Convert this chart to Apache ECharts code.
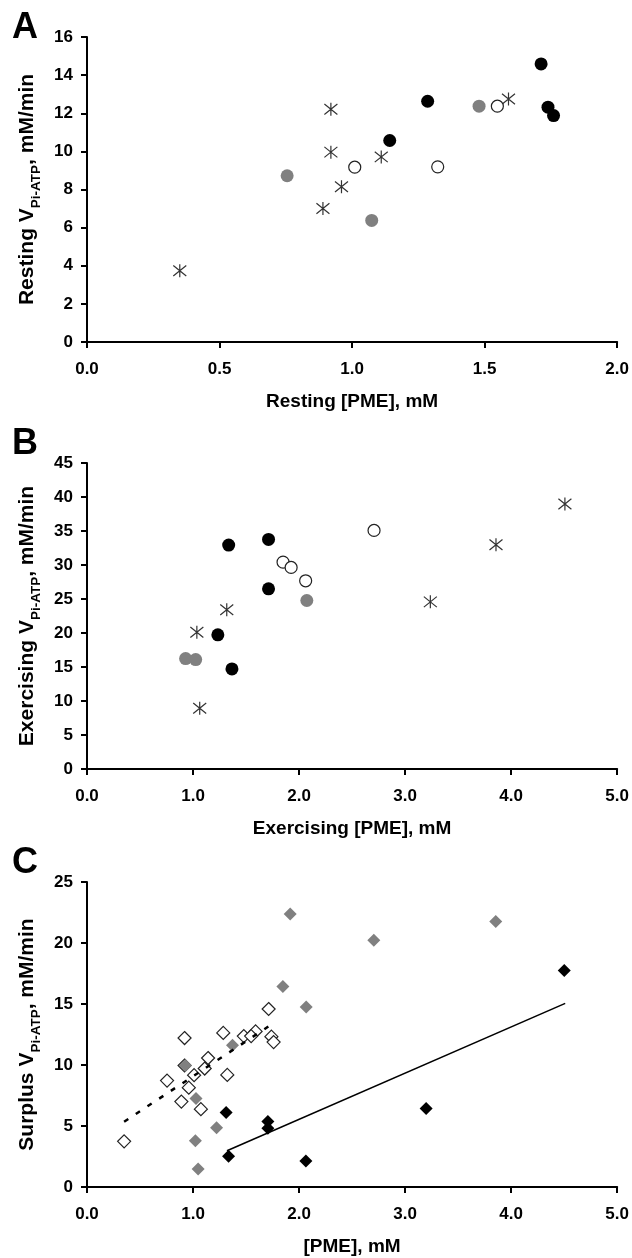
<!DOCTYPE html>
<html>
<head>
<meta charset="utf-8">
<script src="https://cdn.jsdelivr.net/npm/echarts@6/dist/echarts.min.js"></script>
<style>
html,body{margin:0;padding:0;background:#fff;overflow:hidden;}
#c{width:632px;height:1258px;}
</style>
</head>
<body>
<div id="c"></div>
<script>
// ---- Panel A: resting ----
const restStarX  = [0.35, 0.89, 0.92, 0.92, 0.96, 1.11, 1.59];
const restStarY  = [3.74, 7.0, 12.21, 9.96, 8.14, 9.71, 12.75];
const restGrayX  = [0.755, 1.074, 1.479];
const restGrayY  = [8.72, 6.38, 12.37];
const restOpenX  = [1.01, 1.323, 1.548];
const restOpenY  = [9.17, 9.19, 12.37];
const restBlackX = [1.142, 1.285, 1.713, 1.739, 1.76];
const restBlackY = [10.57, 12.63, 14.59, 12.32, 11.88];

// ---- Panel B: exercising ----
const exStarX  = [1.036, 1.063, 1.318, 3.238, 3.857, 4.507];
const exStarY  = [20.12, 8.93, 23.41, 24.58, 32.98, 38.96];
const exGrayX  = [0.93, 1.025, 2.073];
const exGrayY  = [16.24, 16.09, 24.78];
const exOpenX  = [1.849, 1.925, 2.062, 2.707];
const exOpenY  = [30.42, 29.64, 27.68, 35.08];
const exBlackX = [1.336, 1.712, 1.712, 1.234, 1.367];
const exBlackY = [32.93, 33.76, 26.5, 19.73, 14.72];

// ---- Panel C: surplus ----
const surOpenX  = [0.35, 0.89, 0.92, 0.92, 0.96, 1.11, 1.59, 0.755, 1.074, 1.479, 1.01, 1.323, 1.548, 1.142, 1.285, 1.713, 1.739, 1.76];
const surOpenY  = [3.74, 7.0, 12.21, 9.96, 8.14, 9.71, 12.75, 8.72, 6.38, 12.37, 9.17, 9.19, 12.37, 10.57, 12.63, 14.59, 12.32, 11.88];
const surGrayX  = [0.928, 1.028, 1.022, 1.048, 1.222, 1.372, 1.847, 1.916, 2.067, 2.705, 3.855];
const surGrayY  = [9.95, 7.25, 3.79, 1.47, 4.85, 11.61, 16.44, 22.38, 14.75, 20.23, 21.76];
const surBlackX = [1.312, 1.335, 1.706, 1.706, 2.064, 3.198, 4.501];
const surBlackY = [6.10, 2.53, 5.37, 4.82, 2.13, 6.43, 17.75];
const fitDashX  = [0.35, 1.71];
const fitDashY  = [5.35, 13.15];
const fitSolidX = [1.32, 4.51];
const fitSolidY = [2.97, 15.05];

// ---- axes ----
const panelLetters = ['A', 'B', 'C'];
const xNames = ['Resting [PME], mM', 'Exercising [PME], mM', '[PME], mM'];
const yPrefix = ['Resting V', 'Exercising V', 'Surplus V'];
const ySub = 'Pi-ATP';
const ySuffix = ', mM/min';
const xMax = [2, 5, 5];
const xInterval = [0.5, 1, 1];
const yMax = [16, 45, 25];
const yInterval = [2, 5, 5];

const FONT = '"Liberation Sans", Arial, sans-serif';
const pair = (xs, ys) => xs.map((x, i) => [x, ys[i]]);
const STAR = 'path://M0,0L10,10M10,0L0,10M5,-1.2L5,11.2';

const grids = [
  {left: 87, width: 532, top: 37, height: 305},
  {left: 87, width: 532, top: 463, height: 306},
  {left: 87, width: 532, top: 882, height: 305}
];

const axisCommon = {
  axisLine: {show: true, onZero: false, lineStyle: {color: '#000', width: 2}},
  axisTick: {show: true, inside: false, length: 6, lineStyle: {color: '#000', width: 2}},
  splitLine: {show: false},
  axisLabel: {color: '#000', fontSize: 17, fontWeight: 'bold', fontFamily: FONT, margin: 14}
};

const xAxes = [0,1,2].map(i => Object.assign({}, axisCommon, {
  type: 'value', gridIndex: i, min: 0, max: xMax[i], interval: xInterval[i],
  axisLabel: Object.assign({}, axisCommon.axisLabel, {formatter: v => v.toFixed(1), margin: 19}),
  name: xNames[i], nameLocation: 'middle', nameGap: 50,
  nameTextStyle: {color: '#000', fontSize: 19, fontWeight: 'bold', fontFamily: FONT}
}));

const yAxes = [0,1,2].map(i => Object.assign({}, axisCommon, {
  type: 'value', gridIndex: i, min: 0, max: yMax[i], interval: yInterval[i],
  name: '{b|' + yPrefix[i] + '}{s|' + ySub + '}{b|' + ySuffix + '}',
  nameLocation: 'middle', nameRotate: 90, nameGap: 48,
  nameTextStyle: {
    color: '#000', fontFamily: FONT,
    rich: {
      b: {fontSize: 21, fontWeight: 'bold', color: '#000', fontFamily: FONT, lineHeight: 24, verticalAlign: 'bottom'},
      s: {fontSize: 13.5, fontWeight: 'bold', color: '#000', fontFamily: FONT, lineHeight: 24, verticalAlign: 'bottom', padding: [0, 0, -5, 0]}
    }
  }
}));

function sc(idx, data, symbol, size, fill, border, bw, z) {
  return {
    type: 'scatter', xAxisIndex: idx, yAxisIndex: idx, data: data,
    symbol: symbol, symbolSize: size, z: z || 2, silent: true,
    itemStyle: {color: fill, borderColor: border, borderWidth: bw, opacity: 1}
  };
}
function ln(idx, data, type, z) {
  return {
    type: 'line', xAxisIndex: idx, yAxisIndex: idx, data: data, symbol: 'none', z: z || 5, silent: true,
    lineStyle: type === 'dashed'
      ? {color: '#000', width: 2.5, type: [5, 9]}
      : {color: '#000', width: 1.6, type: 'solid'}
  };
}

const series = [
  // A
  sc(0, pair(restStarX, restStarY), STAR, 13, 'transparent', '#333', 1.2),
  sc(0, pair(restGrayX, restGrayY), 'circle', 13, '#808080', '#808080', 0),
  sc(0, pair(restOpenX, restOpenY), 'circle', 12, '#fff', '#222', 1.2),
  sc(0, pair(restBlackX, restBlackY), 'circle', 13, '#000', '#000', 0),
  // B
  sc(1, pair(exStarX, exStarY), STAR, 13, 'transparent', '#333', 1.2),
  sc(1, pair(exGrayX, exGrayY), 'circle', 13, '#808080', '#808080', 0),
  sc(1, pair(exOpenX, exOpenY), 'circle', 12, '#fff', '#222', 1.2),
  sc(1, pair(exBlackX, exBlackY), 'circle', 13, '#000', '#000', 0),
  // C
  sc(2, pair(surOpenX, surOpenY), 'diamond', 13, '#fff', '#222', 1.2, 2),
  sc(2, pair(surGrayX, surGrayY), 'diamond', 13, '#808080', '#808080', 0, 3),
  sc(2, pair(surBlackX, surBlackY), 'diamond', 13, '#000', '#000', 0, 3),
  ln(2, pair(fitDashX, fitDashY), 'dashed', 6),
  ln(2, pair(fitSolidX, fitSolidY), 'solid', 6)
];

const titles = panelLetters.map((t, i) => ({
  text: t, left: 7, top: [5, 421, 840][i],
  textStyle: {fontSize: 36, fontWeight: 'bold', color: '#000', fontFamily: FONT}
}));

const chart = echarts.init(document.getElementById('c'), null, {renderer: 'canvas'});
chart.setOption({
  backgroundColor: '#fff',
  animation: false,
  title: titles,
  grid: grids,
  xAxis: xAxes,
  yAxis: yAxes,
  series: series
});
</script>
</body>
</html>
